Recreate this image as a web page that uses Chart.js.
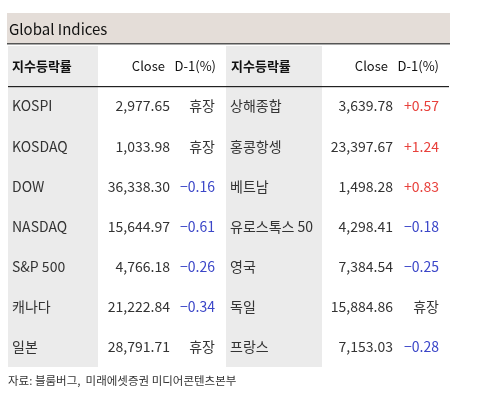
<!DOCTYPE html>
<html><head><meta charset="utf-8">
<script src="https://cdn.jsdelivr.net/npm/chart.js@4"></script>
<style>html,body{margin:0;padding:0;background:#fff}#w{width:479px;height:401px}</style>
</head><body><div id="w"><canvas id="c"></canvas></div>
<script>
const title = "Global Indices";
const headers = ["지수등락률", "Close", "D-1(%)"];
const leftNames = ["KOSPI","KOSDAQ","DOW","NASDAQ","S&P 500","캐나다","일본"];
const leftClose = ["2,977.65","1,033.98","36,338.30","15,644.97","4,766.18","21,222.84","28,791.71"];
const leftChg = ["휴장","휴장","-0.16","-0.61","-0.26","-0.34","휴장"];
const rightNames = ["상해종합","홍콩항셍","베트남","유로스톡스 50","영국","독일","프랑스"];
const rightClose = ["3,639.78","23,397.67","1,498.28","4,298.41","7,384.54","15,884.86","7,153.03"];
const rightChg = ["+0.57","+1.24","+0.83","-0.18","-0.25","휴장","-0.28"];
const source = "자료: 블룸버그,  미래에셋증권 미디어콘텐츠본부";

const F = '"Noto Sans CJK KR", "Noto Sans", sans-serif';
function chgText(s){return s.replace('-', '\u2212');}
function chgColor(s){return s[0]==='+'?'#e8413c':(s[0]==='-'?'#3b46c8':'#333');}

const tablePlugin = {
  id:'table',
  beforeDraw(ch){
    const c=ch.ctx, y=ch.scales.y, bot=y.bottom;
    c.save();
    c.fillStyle='#e4ddd8'; c.fillRect(7,13,443,31);
    c.fillStyle='#ebebeb'; c.fillRect(8,46,90,bot-46); c.fillRect(226,46,96,bot-46);
    c.fillStyle='#555'; c.fillRect(7,43,443,1.5);
    c.fillStyle='#222'; c.fillRect(8,86,441,1.2);
    c.restore();
  },
  afterDraw(ch){
    const c=ch.ctx, y=ch.scales.y;
    c.save(); c.textBaseline='middle';
    c.fillStyle='#111'; c.font='15px '+F; c.textAlign='left';
    c.fillText(title,9,29);
    c.font='bold 13px '+F; c.fillText(headers[0],12,66); c.fillText(headers[0],231,66);
    c.font='13px '+F; c.textAlign='right';
    c.fillText(headers[1],165,66); c.fillText(headers[2],216,66);
    c.fillText(headers[1],388,66); c.fillText(headers[2],439,66);
    c.font='14px '+F;
    leftNames.forEach((n,i)=>{
      const py=y.getPixelForValue(i);
      c.fillStyle='#333'; c.textAlign='left';
      c.fillText(n,12,py); c.fillText(rightNames[i],230,py);
      c.textAlign='right';
      c.fillText(leftClose[i],170,py); c.fillText(rightClose[i],393,py);
      c.fillStyle=chgColor(leftChg[i]); c.fillText(chgText(leftChg[i]),215,py);
      c.fillStyle=chgColor(rightChg[i]); c.fillText(chgText(rightChg[i]),439,py);
    });
    c.fillStyle='#333'; c.textAlign='left'; c.font='11.5px '+F;
    c.fillText(source,8,381);
    c.restore();
  }
};

new Chart(document.getElementById('c'),{
  type:'bar',
  data:{labels:leftNames.map((_,i)=>i),datasets:[{data:[],indexAxis:'y'}]},
  options:{responsive:true,maintainAspectRatio:false,animation:false,indexAxis:'y',
    layout:{padding:{top:86,bottom:34,left:0,right:0}},
    plugins:{legend:{display:false},tooltip:{enabled:false}},
    scales:{x:{display:false,min:0,max:1},y:{type:'category',display:false,offset:true}}},
  plugins:[tablePlugin]
});
</script></body></html>
